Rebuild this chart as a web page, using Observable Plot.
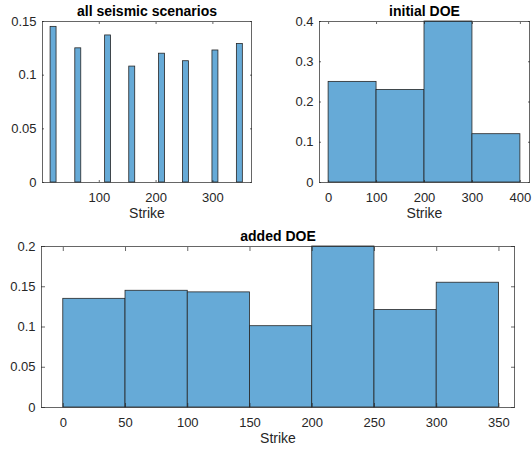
<!DOCTYPE html>
<html>
<head>
<meta charset="utf-8">
<script src="https://cdn.jsdelivr.net/npm/d3@7"></script>
<script src="https://cdn.jsdelivr.net/npm/@observablehq/plot@0.6"></script>
<style>
  html, body { margin: 0; padding: 0; background: #fff; }
  #fig { position: relative; width: 532px; height: 450px; font-family: "Liberation Sans", Arial, sans-serif; }
  #fig svg { position: absolute; overflow: visible; }
</style>
</head>
<body>
<div id="fig"></div>
<script>
// Strike distributions, probability-normalised histograms.

// All seismic scenarios: narrow bins, only these are populated
const allCenters = [19.5, 63, 115.5, 158, 210.5, 252.5, 304.5, 347.5];
const allBinWidth = 10.5;
const allProb = [0.145, 0.125, 0.137, 0.108, 0.120, 0.113, 0.123, 0.129];

// Initial design of experiments
const initEdges = [0, 100, 200, 300, 400];
const initProb = [0.25, 0.23, 0.40, 0.12];

// Added design of experiments
const addedEdges = [0, 50, 100, 150, 200, 250, 300, 350];
const addedProb = [0.135, 0.145, 0.143, 0.101, 0.200, 0.121, 0.155];

// Tick values
const xTicksAll = [100, 200, 300];
const yTicksAll = [0, 0.05, 0.1, 0.15];
const xTicksInit = [0, 100, 200, 300, 400];
const yTicksInit = [0, 0.1, 0.2, 0.3, 0.4];
const xTicksAdded = [0, 50, 100, 150, 200, 250, 300, 350];
const yTicksAdded = [0, 0.05, 0.1, 0.15, 0.2];

const INK = "#262626";
const BAR = "#66aad7";
const FONT = "'Liberation Sans', Arial, Helvetica, sans-serif";

const allBins = allCenters.map((c, i) => ({x1: c - allBinWidth / 2, x2: c + allBinWidth / 2, p: allProb[i]}));
const edgeBins = (edges, probs) => probs.map((p, i) => ({x1: edges[i], x2: edges[i + 1], p}));

function panel({bins, title, xDomain, yDomain, xTicks, yTicks, width, height, margins, tick}) {
  return Plot.plot({
    width, height, ...margins,
    x: {domain: xDomain},
    y: {domain: yDomain},
    style: {fontFamily: FONT, background: "transparent", overflow: "visible"},
    marks: [
      Plot.rectY(bins, {x1: "x1", x2: "x2", y: "p", fill: BAR, stroke: INK, strokeWidth: 0.8}),
      Plot.frame({stroke: INK, strokeWidth: 0.7}),
      // tick labels
      Plot.axisX({anchor: "bottom", ticks: xTicks, tickSize: 0, tickPadding: 10, fontSize: 13, color: INK, label: null}),
      Plot.axisY({anchor: "left", ticks: yTicks, tickSize: 0, tickPadding: 6, fontSize: 13, color: INK, label: null, tickFormat: d => String(d)}),
      // inward tick marks on all four sides
      Plot.axisX({anchor: "bottom", ticks: xTicks, tickSize: -tick, tickFormat: () => "", color: INK, label: null, strokeWidth: 0.7}),
      Plot.axisX({anchor: "top", ticks: xTicks, tickSize: -tick, tickFormat: () => "", color: INK, label: null, strokeWidth: 0.7}),
      Plot.axisY({anchor: "left", ticks: yTicks, tickSize: -tick, tickFormat: () => "", color: INK, label: null, strokeWidth: 0.7}),
      Plot.axisY({anchor: "right", ticks: yTicks, tickSize: -tick, tickFormat: () => "", color: INK, label: null, strokeWidth: 0.7}),
      Plot.text([title], {frameAnchor: "top", lineAnchor: "middle", dy: -10, fontWeight: "bold", fontSize: 14, fill: "#000"}),
      Plot.text(["Strike"], {frameAnchor: "bottom", lineAnchor: "middle", dy: 31, fontSize: 14, fill: INK})
    ]
  });
}

function place(svg, left, top) {
  svg.style.left = left + "px";
  svg.style.top = top + "px";
  document.getElementById("fig").append(svg);
}

place(panel({
  bins: allBins, title: "all seismic scenarios",
  xDomain: [0, 368], yDomain: [0, 0.15], xTicks: xTicksAll, yTicks: yTicksAll,
  width: 266, height: 225,
  margins: {marginLeft: 42, marginRight: 15, marginTop: 21, marginBottom: 43},
  tick: 2
}), 0, 0);

place(panel({
  bins: edgeBins(initEdges, initProb), title: "initial DOE",
  xDomain: [-19, 419], yDomain: [0, 0.4], xTicks: xTicksInit, yTicks: yTicksInit,
  width: 266, height: 225,
  margins: {marginLeft: 53, marginRight: 3, marginTop: 21, marginBottom: 43},
  tick: 2
}), 266, 0);

place(panel({
  bins: edgeBins(addedEdges, addedProb), title: "added DOE",
  xDomain: [-17.5, 362.5], yDomain: [0, 0.2], xTicks: xTicksAdded, yTicks: yTicksAdded,
  width: 532, height: 225,
  margins: {marginLeft: 41, marginRight: 18, marginTop: 21, marginBottom: 43},
  tick: 4
}), 0, 225);
</script>
</body>
</html>
